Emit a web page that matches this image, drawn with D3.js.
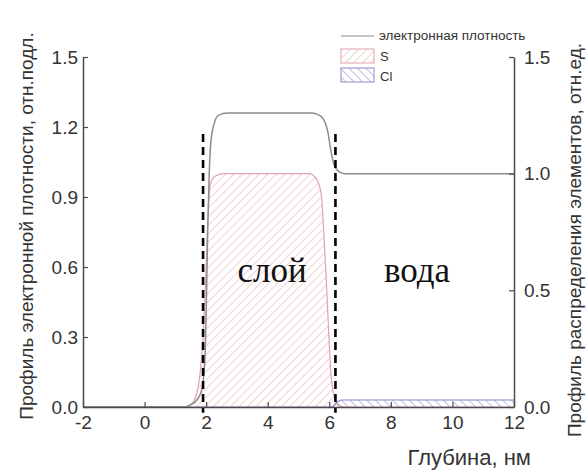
<!DOCTYPE html>
<html>
<head>
<meta charset="utf-8">
<script src="https://cdn.jsdelivr.net/npm/d3@7"></script>
<style>
  html, body { margin: 0; padding: 0; background: #fff; }
  svg { display: block; font-family: "Liberation Sans", Arial, sans-serif; }
</style>
</head>
<body>
<svg id="chart" width="587" height="472"></svg>
<script>
// Depth profiles across the layer / water interface
const densityDepth = [-2, 1.3, 1.5, 1.7, 1.85, 1.95, 2.0, 2.05, 2.1, 2.15, 2.25, 2.4, 2.7, 5.4, 5.6, 5.8, 5.95, 6.05, 6.15, 6.3, 6.5, 12];
const densityValue = [0, 0, 0.01, 0.03, 0.07, 0.18, 0.4, 0.75, 1.0, 1.13, 1.21, 1.25, 1.26, 1.26, 1.255, 1.235, 1.18, 1.1, 1.04, 1.01, 1.0, 1.0];

const sDepth = [-2, 1.3, 1.5, 1.65, 1.8, 1.9, 2.0, 2.08, 2.15, 2.3, 2.6, 5.35, 5.5, 5.65, 5.75, 5.82, 5.9, 5.97, 6.05, 6.15, 6.3, 6.5, 12];
const sValue = [0, 0, 0.01, 0.04, 0.14, 0.3, 0.6, 0.88, 0.96, 0.99, 1.0, 1.0, 0.99, 0.96, 0.9, 0.75, 0.55, 0.35, 0.15, 0.05, 0.01, 0, 0];

const clDepth = [-2, 6.1, 6.25, 6.4, 12];
const clValue = [0, 0, 0.02, 0.03, 0.03];

const boundaryDepths = [1.9, 6.2];
const xTicks = [-2, 0, 2, 4, 6, 8, 10, 12];
const leftTicks = [0, 0.3, 0.6, 0.9, 1.2, 1.5];
const rightTicks = [0, 0.5, 1.0, 1.5];

const svg = d3.select("#chart");
const margin = { left: 83, right: 73, top: 57, bottom: 65 };
const W = 587, H = 472;

const x = d3.scaleLinear().domain([-2, 12]).range([margin.left, W - margin.right]);
const yL = d3.scaleLinear().domain([0, 1.5]).range([H - margin.bottom, margin.top]);
const yR = d3.scaleLinear().domain([0, 1.5]).range([H - margin.bottom, margin.top]);

// hatch patterns
const defs = svg.append("defs");
function hatch(id, color, angle) {
  const p = defs.append("pattern")
    .attr("id", id).attr("patternUnits", "userSpaceOnUse")
    .attr("width", 6).attr("height", 6)
    .attr("patternTransform", `rotate(${angle})`);
  p.append("line").attr("x1", 0).attr("y1", 0).attr("x2", 0).attr("y2", 6)
    .attr("stroke", color).attr("stroke-width", 1);
}
hatch("hatchS", "#e6a4a8", 45);
hatch("hatchCl", "#7b7bc4", -45);

const toPts = (xs, ys) => xs.map((d, i) => [d, ys[i]]);

const area = d3.area().curve(d3.curveMonotoneX)
  .x(d => x(d[0])).y0(yR(0)).y1(d => yR(d[1]));
const lineR = d3.line().curve(d3.curveMonotoneX)
  .x(d => x(d[0])).y(d => yR(d[1]));
const lineL = d3.line().curve(d3.curveMonotoneX)
  .x(d => x(d[0])).y(d => yL(d[1]));

const sPts = toPts(sDepth, sValue);
const clPts = toPts(clDepth, clValue);
const dPts = toPts(densityDepth, densityValue);

svg.append("path").attr("d", area(sPts)).attr("fill", "url(#hatchS)");
svg.append("path").attr("d", lineR(sPts)).attr("fill", "none").attr("stroke", "#e3a2ab").attr("stroke-width", 1.2);
svg.append("path").attr("d", area(clPts)).attr("fill", "url(#hatchCl)");
svg.append("path").attr("d", lineR(clPts)).attr("fill", "none").attr("stroke", "#8888cc").attr("stroke-width", 1.2);

svg.append("path").attr("d", lineL(dPts)).attr("fill", "none").attr("stroke", "#8c8c8c").attr("stroke-width", 1.5);

// boundary markers
svg.selectAll(".boundary").data(boundaryDepths).join("line")
  .attr("class", "boundary")
  .attr("x1", d => x(d)).attr("x2", d => x(d))
  .attr("y1", yL(1.17)).attr("y2", yL(-0.025))
  .attr("stroke", "#000").attr("stroke-width", 2.6)
  .attr("stroke-dasharray", "8,5");

// axes
const axisColor = "#4a4a4a";
function styleAxis(g) {
  g.selectAll(".domain").attr("stroke", axisColor).attr("stroke-width", 1.5);
  g.selectAll(".tick line").attr("stroke", axisColor).attr("stroke-width", 1.2);
  g.selectAll(".tick text").attr("fill", "#333").style("font-size", "19px")
    .style("font-family", "'Liberation Sans', Arial, sans-serif");
}

svg.append("g").attr("transform", `translate(0,${H - margin.bottom})`)
  .call(d3.axisBottom(x).tickValues(xTicks).tickFormat(d => String(d))
    .tickSizeInner(-5).tickSizeOuter(0).tickPadding(9))
  .call(styleAxis);

svg.append("g").attr("transform", `translate(${margin.left},0)`)
  .call(d3.axisLeft(yL).tickValues(leftTicks).tickFormat(d3.format(".1f"))
    .tickSizeInner(-5).tickSizeOuter(0).tickPadding(5))
  .call(styleAxis);

svg.append("g").attr("transform", `translate(${W - margin.right},0)`)
  .call(d3.axisRight(yR).tickValues(rightTicks).tickFormat(d3.format(".1f"))
    .tickSizeInner(-5).tickSizeOuter(0).tickPadding(10))
  .call(styleAxis);

// axis titles
svg.append("text").attr("x", 531).attr("y", 465).attr("text-anchor", "end")
  .attr("fill", "#333").style("font-size", "22px").text("Глубина, нм");

svg.append("text")
  .attr("transform", `translate(33,226) rotate(-90)`)
  .attr("text-anchor", "middle").attr("fill", "#333").style("font-size", "19px")
  .text("Профиль электронной плотности, отн.подл.");

svg.append("text")
  .attr("transform", `translate(581,240) rotate(-90)`)
  .attr("text-anchor", "middle").attr("fill", "#333").style("font-size", "19px")
  .text("Профиль распределения элементов, отн.ед.");

// region labels
const serif = "'Liberation Serif', 'Times New Roman', serif";
svg.append("text").attr("x", 272).attr("y", 282).attr("text-anchor", "middle")
  .style("font-family", serif).style("font-size", "35px").attr("fill", "#111").text("слой");
svg.append("text").attr("x", 417).attr("y", 282).attr("text-anchor", "middle")
  .style("font-family", serif).style("font-size", "35px").attr("fill", "#111").text("вода");

// legend
const lg = svg.append("g");
lg.append("line").attr("x1", 341).attr("x2", 374).attr("y1", 36).attr("y2", 36)
  .attr("stroke", "#8c8c8c").attr("stroke-width", 1.2);
lg.append("text").attr("x", 379).attr("y", 40).attr("fill", "#333")
  .style("font-size", "13.5px").text("электронная плотность");
lg.append("rect").attr("x", 341).attr("y", 49).attr("width", 33).attr("height", 14)
  .attr("fill", "url(#hatchS)").attr("stroke", "#e3a2ab");
lg.append("text").attr("x", 380).attr("y", 61).attr("fill", "#333").style("font-size", "13px").text("S");
lg.append("rect").attr("x", 341).attr("y", 68).attr("width", 33).attr("height", 14)
  .attr("fill", "url(#hatchCl)").attr("stroke", "#8888cc");
lg.append("text").attr("x", 380).attr("y", 81).attr("fill", "#333").style("font-size", "13px").text("Cl");
</script>
</body>
</html>
